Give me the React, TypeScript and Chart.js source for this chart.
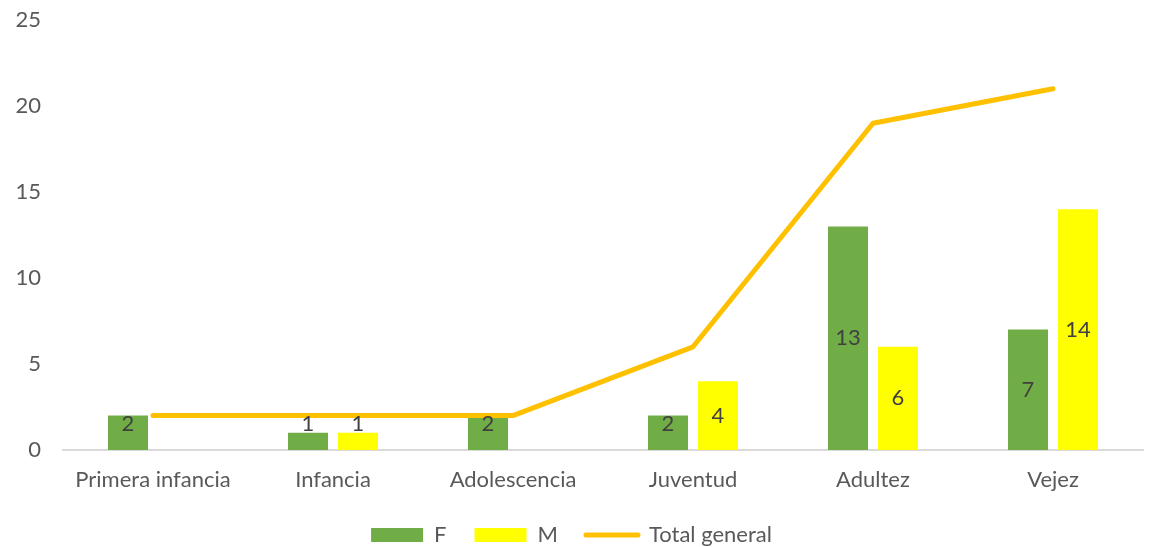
import React, { useEffect, useRef } from "react";
import { Chart, registerables } from "chart.js";

Chart.register(...registerables);

const categories = ["Primera infancia", "Infancia", "Adolescencia", "Juventud", "Adultez", "Vejez"];
const femaleValues: (number | null)[] = [2, 1, 2, 2, 13, 7];
const maleValues: (number | null)[] = [null, 1, null, 4, 6, 14];
const totalValues: number[] = [2, 2, 2, 6, 19, 21];
const yTicks = [0, 5, 10, 15, 20, 25];

const FONT = "Lato, 'Open Sans', sans-serif";
const FSIZE = 22;

const barLabelPlugin = {
  id: "barLabels",
  afterDatasetsDraw(chart: any) {
    const ctx = chart.ctx;
    const yScale = chart.scales.y;
    const base = yScale.getPixelForValue(0);
    ctx.save();
    ctx.font = `${FSIZE}px ${FONT}`;
    ctx.fillStyle = "#404040";
    ctx.textAlign = "center";
    ctx.textBaseline = "middle";
    chart.data.datasets.forEach((ds: any, di: number) => {
      if (ds.type === "line") return;
      const meta = chart.getDatasetMeta(di);
      meta.data.forEach((el: any, i: number) => {
        const v = ds.data[i];
        if (v === null || v === undefined) return;
        const center = (el.y + base) / 2;
        const y = Math.min(center, base - 26);
        ctx.fillText(String(v), el.x, y);
      });
    });
    ctx.restore();
  },
};

export default function App() {
  const ref = useRef<HTMLCanvasElement>(null);
  useEffect(() => {
    document.body.style.margin = "0";
    const chart = new Chart(ref.current!, {
      type: "bar",
      data: {
        labels: categories,
        datasets: [
          {
            type: "bar",
            label: "F",
            data: femaleValues,
            backgroundColor: "#70AD47",
            borderWidth: 0,
            categoryPercentage: 0.5556,
            barPercentage: 0.8,
            order: 1,
          },
          {
            type: "bar",
            label: "M",
            data: maleValues,
            backgroundColor: "#FFFF00",
            borderWidth: 0,
            categoryPercentage: 0.5556,
            barPercentage: 0.8,
            order: 1,
          },
          {
            type: "line",
            label: "Total general",
            data: totalValues,
            borderColor: "#FFC000",
            backgroundColor: "#FFC000",
            borderWidth: 5,
            borderCapStyle: "round",
            borderJoinStyle: "round",
            pointRadius: 0,
            pointHoverRadius: 0,
            tension: 0,
            order: 0,
          } as any,
        ],
      },
      options: {
        animation: false,
        responsive: false,
        maintainAspectRatio: false,
        layout: { padding: { left: 0, right: 13, top: 20, bottom: -9 } },
        plugins: {
          tooltip: { enabled: false },
          legend: {
            position: "bottom",
            labels: {
              usePointStyle: true,
              pointStyleWidth: 52,
              boxHeight: 14,
              padding: 28,
              color: "#595959",
              font: { family: FONT, size: FSIZE },
              sort: (a: any, b: any) => a.datasetIndex - b.datasetIndex,
              generateLabels: (chart: any) =>
                chart.data.datasets.map((ds: any, i: number) => ({
                  text: ds.label,
                  datasetIndex: i,
                  fillStyle: ds.backgroundColor,
                  strokeStyle: ds.type === "line" ? ds.borderColor : ds.backgroundColor,
                  lineWidth: ds.type === "line" ? 5 : 0,
                  lineCap: "round",
                  pointStyle: ds.type === "line" ? "line" : "rect",
                  fontColor: "#595959",
                  hidden: false,
                })),
            },
          },
        },
        scales: {
          x: {
            grid: { display: false, drawTicks: false },
            border: { display: true, color: "#D9D9D9", width: 2 },
            ticks: { color: "#595959", font: { family: FONT, size: FSIZE }, padding: 17, maxRotation: 0 },
            afterFit: (s: any) => {
              s.height = 46;
              s.paddingLeft = 0;
              s.paddingRight = 0;
            },
          },
          y: {
            min: 0,
            max: 25,
            afterBuildTicks: (s: any) => {
              s.ticks = yTicks.map((v) => ({ value: v }));
            },
            grid: { display: false, drawTicks: false },
            border: { display: false },
            ticks: { color: "#595959", font: { family: FONT, size: FSIZE }, padding: 22 },
            afterFit: (s: any) => {
              s.width = 63;
              s.paddingTop = 0;
              s.paddingBottom = 0;
            },
          },
        },
      },
      plugins: [barLabelPlugin],
    });
    return () => chart.destroy();
  }, []);
  return <canvas ref={ref} width={1156} height={547} style={{ display: "block" }} />;
}
